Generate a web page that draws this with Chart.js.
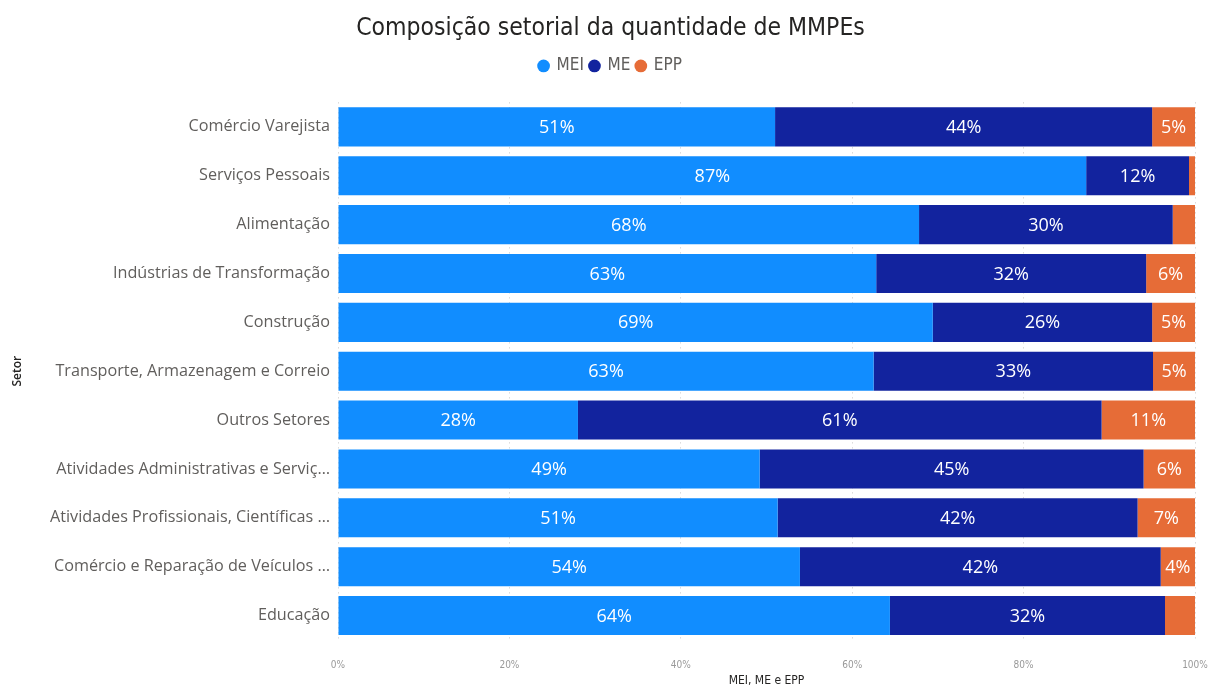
<!DOCTYPE html>
<html>
<head>
<meta charset="utf-8">
<script src="https://cdn.jsdelivr.net/npm/chart.js@4.4.1/dist/chart.umd.min.js"></script>
<style>
  html, body { margin: 0; padding: 0; background: #fff; }
  #wrap { width: 1211px; height: 688px; position: relative; }
</style>
</head>
<body>
<div id="wrap"><canvas id="chart"></canvas></div>
<script>
// Setores (rótulos como aparecem no gráfico original)
const setores = [
  'Comércio Varejista',
  'Serviços Pessoais',
  'Alimentação',
  'Indústrias de Transformação',
  'Construção',
  'Transporte, Armazenagem e Correio',
  'Outros Setores',
  'Atividades Administrativas e Serviç…',
  'Atividades Profissionais, Científicas …',
  'Comércio e Reparação de Veículos …',
  'Educação'
];

// Participação (%) por porte
const mei = [51.0, 87.3, 67.8, 62.8, 69.4, 62.5, 28.0, 49.2, 51.3, 53.9, 64.4];
const me  = [44.0, 12.0, 29.6, 31.5, 25.6, 32.6, 61.1, 44.8, 42.0, 42.1, 32.1];
const epp = [ 5.0,  0.7,  2.6,  5.7,  5.0,  4.9, 10.9,  6.0,  6.7,  4.0,  3.5];

const xTicks = [0, 20, 40, 60, 80, 100];

const FONT = "'Open Sans', 'Noto Sans', sans-serif";
const DIN = "'DejaVu Sans Condensed', 'Roboto', sans-serif";

// draws the % labels inside each segment, only if they fit
const barLabels = {
  id: 'barLabels',
  afterDatasetsDraw(chart) {
    const ctx = chart.ctx;
    ctx.save();
    ctx.font = `18px ${FONT}`;
    ctx.fillStyle = '#ffffff';
    ctx.textAlign = 'center';
    ctx.textBaseline = 'middle';
    chart.data.datasets.forEach((ds, i) => {
      const meta = chart.getDatasetMeta(i);
      meta.data.forEach((bar, j) => {
        const txt = Math.round(ds.data[j]) + '%';
        const w = Math.abs(bar.x - bar.base);
        if (ctx.measureText(txt).width + 7 > w) return;
        ctx.fillText(txt, (bar.x + bar.base) / 2, bar.y + 1);
      });
    });
    ctx.restore();
  }
};

// extra room under the legend
const legendGap = {
  id: 'legendGap',
  beforeInit(chart) {
    const fit = chart.legend.fit;
    chart.legend.fit = function () {
      fit.bind(chart.legend)();
      this.height += 18;
    };
  }
};

new Chart(document.getElementById('chart'), {
  type: 'bar',
  data: {
    labels: setores,
    datasets: [
      { label: 'MEI', data: mei, backgroundColor: '#118DFF' },
      { label: 'ME', data: me, backgroundColor: '#12239E' },
      { label: 'EPP', data: epp, backgroundColor: '#E66C37' }
    ]
  },
  options: {
    indexAxis: 'y',
    responsive: true,
    maintainAspectRatio: false,
    animation: false,
    layout: { padding: { left: 10, right: 0, top: 2, bottom: 0 } },
    datasets: { bar: { categoryPercentage: 0.8, barPercentage: 1.0, borderWidth: 0 } },
    plugins: {
      title: {
        display: true,
        text: 'Composição setorial da quantidade de MMPEs',
        color: '#252423',
        font: { family: DIN, size: 24.5, weight: 'normal' },
        padding: { top: 12, bottom: 8 }
      },
      legend: {
        display: true,
        position: 'top',
        labels: {
          usePointStyle: true,
          pointStyle: 'circle',
          boxWidth: 9,
          boxHeight: 9,
          padding: 6,
          color: '#605E5C',
          font: { family: DIN, size: 17 }
        }
      },
      tooltip: { enabled: false }
    },
    scales: {
      x: {
        stacked: true,
        min: 0,
        max: 100,
        afterBuildTicks: (axis) => { axis.ticks = xTicks.map(v => ({ value: v })); },
        afterFit: (scale) => { scale.height = 48; scale.paddingRight = 16; },
        ticks: {
          callback: (v) => v + '%',
          color: '#999999',
          font: { family: DIN, size: 10 },
          padding: 19
        },
        grid: { color: '#c8c8c8', lineWidth: 1, drawTicks: false },
        border: { display: false, dash: [1, 4] },
        title: {
          display: true,
          text: 'MEI, ME e EPP',
          color: '#252423',
          font: { family: DIN, size: 12 },
          padding: { top: 3, bottom: 0 }
        }
      },
      y: {
        stacked: true,
        afterFit: (scale) => { scale.width = 328; },
        ticks: {
          color: '#605E5C',
          font: { family: FONT, size: 16.2 },
          padding: 8
        },
        grid: { display: false, drawTicks: false },
        border: { display: false },
        title: {
          display: true,
          text: 'Setor',
          color: '#252423',
          font: { family: FONT, size: 12, weight: '600' },
          padding: { top: 0, bottom: 4 }
        }
      }
    }
  },
  plugins: [barLabels, legendGap]
});
</script>
</body>
</html>
